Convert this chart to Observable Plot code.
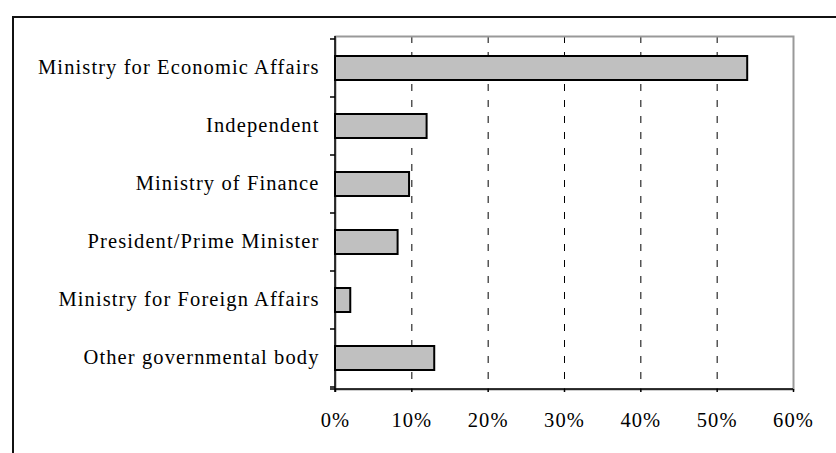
<!DOCTYPE html>
<html><head><meta charset="utf-8">
<script src="https://cdn.jsdelivr.net/npm/d3@7"></script>
<script src="https://cdn.jsdelivr.net/npm/@observablehq/plot@0.6"></script>
<style>
html,body{margin:0;padding:0;background:#fff;overflow:hidden}
#wrap{position:relative;width:836px;height:453px;overflow:hidden}
#border{position:absolute;left:12px;top:16px;width:900px;height:500px;border-left:2px solid #111;border-top:2px solid #111;}
#chart{position:absolute;left:0;top:0}
</style></head><body>
<div id="wrap"><div id="border"></div><div id="chart"></div></div>
<script>
const categories = [
  "Ministry for Economic Affairs",
  "Independent",
  "Ministry of Finance",
  "President/Prime Minister",
  "Ministry for Foreign Affairs",
  "Other governmental body"
];
const values = [0.54, 0.12, 0.097, 0.082, 0.02, 0.13];
const xTicks = [0, 0.1, 0.2, 0.3, 0.4, 0.5, 0.6];
const gridTicks = [0.1, 0.2, 0.3, 0.4, 0.5];

const data = categories.map((c, i) => ({category: c, value: values[i]}));

function axesMark(index, scales, vals, dim) {
  const y = scales.y, x = scales.x;
  const bw = typeof y.bandwidth === "function" ? y.bandwidth() : 0;
  const step = typeof y.step === "function" ? y.step() : (y(categories[1]) - y(categories[0]));
  const centers = categories.map(c => y(c) + bw / 2);
  const bounds = centers.map(c => c - step / 2).concat([centers[centers.length - 1] + step / 2]);
  const x0 = x(0);
  const top = dim.marginTop, bottom = dim.height - dim.marginBottom, right = dim.width - dim.marginRight;
  const g = d3.create("svg:g").attr("stroke", "#000").attr("stroke-width", 1.5);
  g.append("line").attr("x1", x0).attr("x2", x0).attr("y1", top).attr("y2", bottom + 3);
  g.append("line").attr("x1", x0 - 5).attr("x2", right).attr("y1", bottom).attr("y2", bottom);
  bounds.forEach(b => g.append("line").attr("x1", x0 - 5).attr("x2", x0).attr("y1", b).attr("y2", b));
  return g.node();
}

const chart = Plot.plot({
  width: 836,
  height: 453,
  marginLeft: 335,
  marginTop: 36,
  marginRight: 43,
  marginBottom: 64,
  style: {fontFamily: "'Liberation Serif', 'Times New Roman', serif", fontSize: "20.5px", letterSpacing: "1.1px", color: "#000", background: "transparent", overflow: "visible"},
  x: {domain: [0, 0.6], label: null},
  y: {domain: categories, paddingInner: 0.59, paddingOuter: 0.295, label: null},
  marks: [
    Plot.ruleX(gridTicks, {stroke: "#000", strokeWidth: 1, strokeDasharray: "7,9"}),
    Plot.frame({stroke: "#999", strokeWidth: 2}),
    Plot.barX(data, {x: "value", y: "category", fill: "#c0c0c0", stroke: "#000", strokeWidth: 2}),
    Plot.axisX({ticks: xTicks, tickFormat: d3.format(".0%"), tickSize: 3, tickPadding: 20, strokeWidth: 1.5, fontSize: 20.5, label: null}),
    Plot.axisY({tickSize: 0, tickPadding: 16, fontSize: 20.5, dy: -1, label: null}),
    axesMark
  ]
});
document.getElementById("chart").appendChild(chart);
</script>
</body></html>
